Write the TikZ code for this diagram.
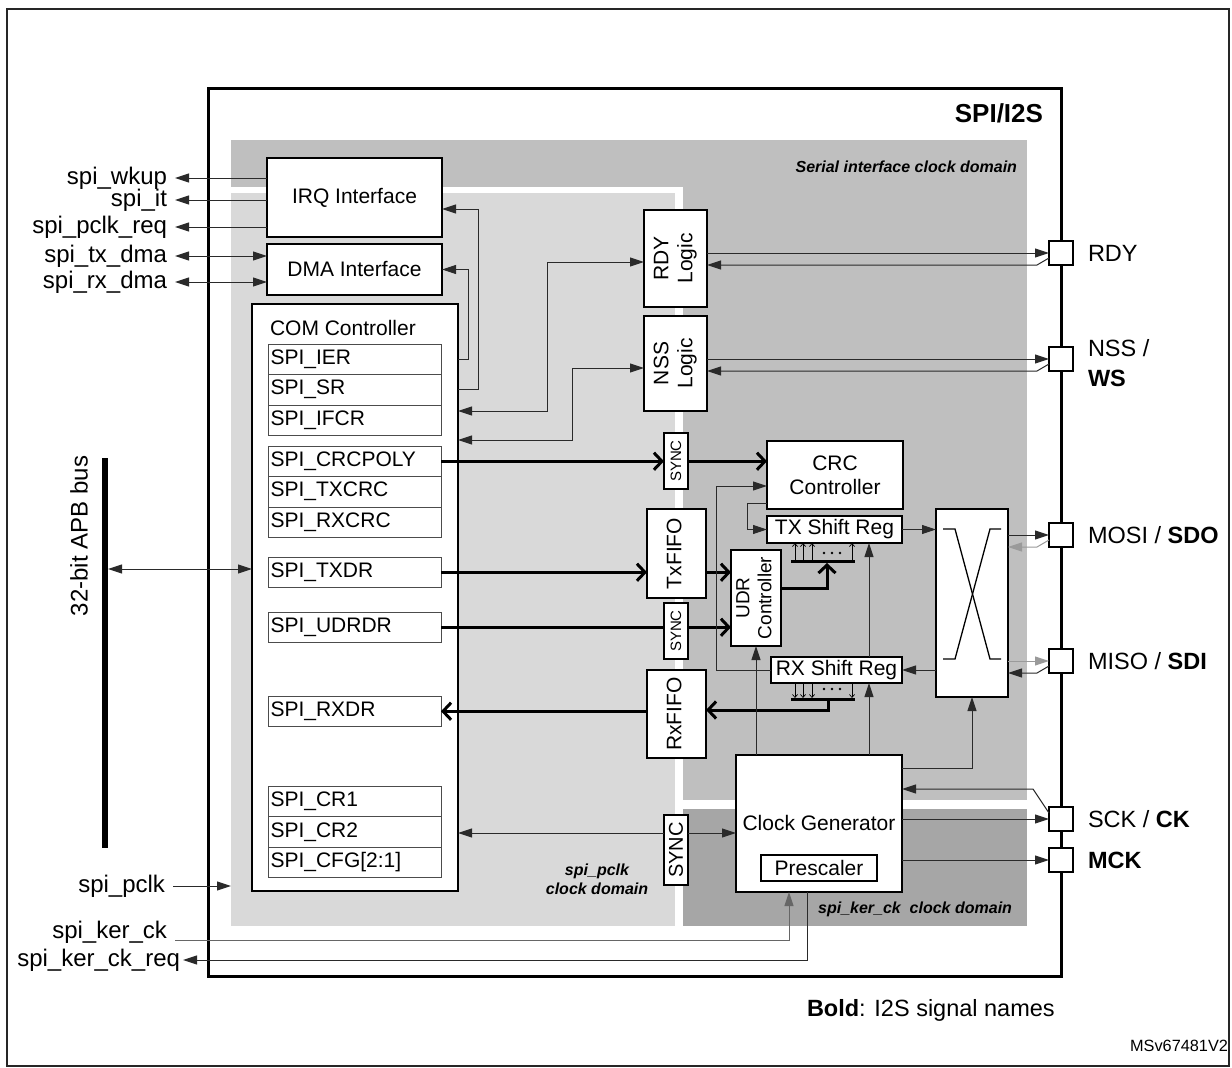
\documentclass[tikz,border=0pt]{standalone}
\usepackage{fontspec}
\usepackage{graphicx}
\setmainfont{Liberation Sans}
\usetikzlibrary{arrows.meta,calc}
\definecolor{glight}{HTML}{D9D9D9}
\definecolor{gmed}{HTML}{BFBFBF}
\definecolor{gdark}{HTML}{A6A6A6}
\definecolor{lnc}{HTML}{2A2A2A}
\definecolor{gline}{HTML}{9A9A9A}
\newcommand{\fsz}[2]{\fontsize{#1}{#2}\selectfont}
\newcommand{\rottxt}[1]{\rotatebox{90}{\begin{tabular}{@{}c@{}}#1\end{tabular}}}
\begin{document}
\begin{tikzpicture}[x=1pt,y=-1pt,
  every node/.append style={inner sep=0pt, outer sep=0pt, font=\fsz{21}{24}},
  box/.style={draw=black, line width=1.8pt, fill=white, anchor=north west},
  sbox/.style={draw=black, line width=1.5pt, fill=white, anchor=north west},
  reg/.style={draw=black!70, line width=0.9pt, fill=white, anchor=north west,
    minimum height=30.5pt, text width=168pt, inner xsep=2.5pt, align=left},
  padbox/.style={draw=black, line width=1.5pt, fill=white, minimum size=24pt},
  arr/.style={line width=1pt, draw=lnc, -{Triangle[length=14pt,width=9pt]}},
  arrb/.style={line width=1pt, draw=lnc, {Triangle[length=14pt,width=9pt]}-{Triangle[length=14pt,width=9pt]}},
  garr/.style={line width=1pt, draw=gline, -{Triangle[length=14pt,width=9pt]}},
  dat/.style={line width=3pt, -{Straight Barb[length=8pt,width=17pt]}},
  datn/.style={line width=3pt},
  bit/.style={line width=0.7pt, -{Straight Barb[length=3pt,width=5pt]}},
  lbl/.style={anchor=east, font=\fsz{24}{26}},
  plbl/.style={anchor=west, font=\fsz{23.5}{30}, align=left},
  dom/.style={font=\fsz{16}{19}\bfseries\itshape}
]
\useasboundingbox (0,0) rectangle (1232,1068);
% outer frame
\draw[line width=1.5pt, black!85] (7,9) rectangle (1229,1066);

% SPI/I2S block
\node[draw=black, line width=3pt, minimum width=853pt, minimum height=888pt, anchor=north west] (spi) at (208,88) {};
\fill[gmed] (231,140) rectangle (1027,800);
\fill[white] (231,187) rectangle (683,926);
\fill[glight] (231,193) rectangle (675,926);
\fill[gdark] (683,809) rectangle (1027,926);

\node[anchor=east, font=\fsz{26}{30}\bfseries] (spititle) at (1043,113) {SPI/I2S};
\node[dom, anchor=east] (sicd) at (1017,167) {Serial interface clock domain};
\node[dom, align=center] (pcd) at (597,879) {spi\_pclk\\clock domain};
\node[dom, anchor=east] (kcd) at (1012,909) {spi\_ker\_ck\ \ clock domain};

% APB bus
\coordinate (bust) at (105,458);
\coordinate (busb) at (105,848);
\draw[line width=6pt] (bust) -- (busb);
\node[rotate=90, font=\fsz{24}{28}] (bustext) at (79,536) {32-bit APB bus};

% interface boxes
\node[box, minimum width=175pt, minimum height=79pt] (irq) at (267,158) {IRQ Interface};
\node[box, minimum width=175pt, minimum height=51pt] (dma) at (267,244) {DMA Interface};
\node[box, minimum width=206pt, minimum height=587pt] (com) at (252,304) {};
\node[anchor=west] (comt) at (270,328) {COM Controller};

% registers
\node[reg] (ier) at (268,344) {SPI\_IER};
\node[reg] (sr) at (268,374.5) {SPI\_SR};
\node[reg] (ifcr) at (268,405) {SPI\_IFCR};
\node[reg] (crcpoly) at (268,446) {SPI\_CRCPOLY};
\node[reg] (txcrc) at (268,476.5) {SPI\_TXCRC};
\node[reg] (rxcrc) at (268,507) {SPI\_RXCRC};
\node[reg] (txdr) at (268,557) {SPI\_TXDR};
\node[reg] (udrdr) at (268,612) {SPI\_UDRDR};
\node[reg] (rxdr) at (268,696) {SPI\_RXDR};
\node[reg] (cr1) at (268,786) {SPI\_CR1};
\node[reg] (cr2) at (268,816.5) {SPI\_CR2};
\node[reg] (cfg) at (268,847) {SPI\_CFG[2:1]};

% logic blocks
\node[box, minimum width=63pt, minimum height=97pt] (rdy) at (644,210) {\rottxt{RDY\\Logic}};
\node[box, minimum width=63pt, minimum height=95pt] (nss) at (644,316) {\rottxt{NSS\\Logic}};
\node[sbox, minimum width=24pt, minimum height=56pt] (sync1) at (664,433) {\rotatebox{90}{\fsz{15}{17}SYNC}};
\node[box, minimum width=136pt, minimum height=68pt, align=center] (crc) at (767,441) {CRC\\Controller};
\node[box, minimum width=59pt, minimum height=89pt] (txfifo) at (647,509) {\rottxt{TxFIFO}};
\node[box, minimum width=135pt, minimum height=27pt] (txsr) at (767,516) {TX Shift Reg};
\node[box, minimum width=50pt, minimum height=96pt] (udr) at (731,550) {\rotatebox{90}{\fsz{19}{22}\begin{tabular}{@{}c@{}}UDR\\Controller\end{tabular}}};
\node[sbox, minimum width=24pt, minimum height=56pt] (sync2) at (664,603) {\rotatebox{90}{\fsz{15}{17}SYNC}};
\node[box, minimum width=131pt, minimum height=26pt] (rxsr) at (771,657) {RX Shift Reg};
\node[box, minimum width=59pt, minimum height=88pt] (rxfifo) at (647,670) {\rottxt{RxFIFO}};
\node[box, minimum width=72pt, minimum height=188pt] (xbox) at (936,509) {};
\node[box, minimum width=166pt, minimum height=137pt] (cg) at (736,755) {};
\node (cgt) at (819,823) {Clock Generator};
\node[draw=black, line width=1.2pt, fill=white, anchor=north west, minimum width=116pt, minimum height=26pt] (presc) at (761,855) {Prescaler};
\node[sbox, minimum width=24pt, minimum height=70pt] (sync3) at (664,815) {\rotatebox{90}{\fsz{20}{22}SYNC}};

% crossbar symbol
\draw[line width=1.3pt] (943,529) -- (955,529) -- (990,659) -- (1001,659);
\draw[line width=1.3pt] (1001,529) -- (990,529) -- (955,659) -- (943,659);

% pads
\node[padbox] (prdy) at (spi.east |- 0,253) {};
\node[padbox] (pnss) at (spi.east |- 0,359) {};
\node[padbox] (pmosi) at (spi.east |- 0,535) {};
\node[padbox] (pmiso) at (spi.east |- 0,661) {};
\node[padbox] (psck) at (spi.east |- 0,819) {};
\node[padbox] (pmck) at (spi.east |- 0,860) {};
\node[plbl] (trdy) at (1088,253) {RDY};
\node[plbl] (tnss) at (1088,363) {NSS /\\\textbf{WS}};
\node[plbl] (tmosi) at (1088,535) {MOSI / \textbf{SDO}};
\node[plbl] (tmiso) at (1088,661) {MISO / \textbf{SDI}};
\node[plbl] (tsck) at (1088,819) {SCK / \textbf{CK}};
\node[plbl] (tmck) at (1088,860) {\textbf{MCK}};

% left signal labels
\node[lbl] (lwk) at (167,178) {spi\_wkup};
\node[lbl] (lit) at (167,200) {spi\_it};
\node[lbl] (lpr) at (167,227) {spi\_pclk\_req};
\node[lbl] (ltx) at (167,256) {spi\_tx\_dma};
\node[lbl] (lrx) at (167,282) {spi\_rx\_dma};
\node[lbl] (lpclk) at (165,886) {spi\_pclk};
\node[lbl] (lker) at (167,932) {spi\_ker\_ck};
\node[lbl] (lkreq) at (180,960) {spi\_ker\_ck\_req};
\coordinate (pclkin) at (231,886);
\coordinate (kerin) at (175,940);

% IRQ / DMA outputs
\draw[arr] (irq.west |- lwk) -- ([xshift=8pt]lwk.east);
\draw[arr] (irq.west |- lit) -- ([xshift=8pt]lit.east);
\draw[arr] (irq.west |- lpr) -- ([xshift=8pt]lpr.east);
\draw[arrb] ([xshift=8pt]ltx.east) -- (dma.west |- ltx);
\draw[arrb] ([xshift=8pt]lrx.east) -- (dma.west |- lrx);

% register feedback to IRQ / DMA
\draw[arr] (com.east |- ier) -- ++(10,0) |- (dma.east);
\draw[arr] (com.east |- sr) -- ++(20,0) |- (irq.east |- 0,209);

% RDY / NSS logic to COM
\draw[arrb] (rdy.west |- 0,262) -| (547,411) -- (com.east |- 0,411);
\draw[arrb] (nss.west |- 0,368) -| (572,440) -- (com.east |- 0,440);

% pads
\draw[arr] (rdy.east |- prdy) -- (prdy.west);
\draw[arr] ([yshift=-5pt]prdy.west) -- ++(-12,7) -- (rdy.east |- 0,265);
\draw[arr] (nss.east |- pnss) -- (pnss.west);
\draw[arr] ([yshift=-5pt]pnss.west) -- ++(-12,7) -- (nss.east |- 0,371);
\draw[arr] (xbox.east |- pmosi) -- (pmosi.west);
\draw[garr] ([yshift=-5pt]pmosi.west) -- ++(-12,7) -- (xbox.east |- 0,547);
\draw[garr] (xbox.east |- pmiso) -- (pmiso.west);
\draw[arr] ([yshift=-5pt]pmiso.west) -- ++(-12,7) -- (xbox.east |- 0,673);
\draw[arr] (cg.east |- psck) -- (psck.west);
\draw[arr] ([yshift=6pt]psck.west) -- (1033,789) -- (cg.east |- 0,789);
\draw[arr] (cg.east |- pmck) -- (pmck.west);

% data paths
\draw[dat] (crcpoly.east) -- (sync1.west |- crcpoly);
\draw[dat] (sync1.east |- crcpoly) -- (crc.west |- crcpoly);
\draw[dat] (txdr.east) -- (txfifo.west |- txdr);
\draw[dat] (txfifo.east |- txdr) -- (udr.west |- txdr);
\draw[datn] (udrdr.east) -- (sync2.west |- udrdr);
\draw[dat] (sync2.east |- udrdr) -- (udr.west |- udrdr);
\draw[dat] (rxfifo.west |- rxdr) -- (rxdr.east);

% TX parallel bus
\coordinate (txbl) at (791,561);
\coordinate (txbr) at (855,561);
\draw[line width=3pt] (txbl) -- (txbr);
\foreach \bx in {795,803,812,852} \draw[bit] (\bx,560) -- (txsr.south -| \bx,0);
\foreach \dx in {824,832,840} \fill (\dx,553) circle (1.3pt);
\draw[dat] (udr.east |- 0,588) -| ([yshift=-2pt]txbl -| 827,0);

% RX parallel bus
\coordinate (rxbl) at (791,699);
\coordinate (rxbr) at (855,699);
\draw[line width=3pt] (rxbl) -- (rxbr);
\foreach \bx in {795,803,812,852} \draw[bit] (rxsr.south -| \bx,0) -- (\bx,698);
\foreach \dx in {824,832,840} \fill (\dx,689) circle (1.3pt);
\draw[dat] (rxbl -| 828,0) |- (rxfifo.east |- 0,710);

% CRC paths
\draw[arr] (crc.west |- 0,503) -- (747,503) |- (txsr.west);
\draw[arr] (rxsr.west) -| (716,486) -- (crc.west |- 0,486);

% shift regs and crossbar
\draw[arr] (txsr.east) -- (xbox.west |- txsr.east);
\draw[arr] (xbox.west |- rxsr.east) -- (rxsr.east);

% clock generator fan-out
\draw[arr] (cg.north -| udr.south) -- (udr.south);
\draw[arr] (cg.north -| 869,0) -- (rxsr.south -| 869,0);
\draw[arr] (rxsr.north -| 869,0) -- (txsr.south -| 869,0);
\draw[arr] (cg.east |- 0,768) -| (xbox.south);

% config sync
\draw[arr] (sync3.west |- 0,833) -- (com.east |- 0,833);
\draw[arr] (sync3.east |- 0,833) -- (cg.west |- 0,833);

% clocks in
\draw[arr] ([xshift=8pt]lpclk.east) -- (pclkin);
\draw[arr, draw=black!60] (kerin) -| (cg.south -| 789,0);
\draw[arr] (cg.south -| 807,0) |- ([xshift=3pt]lkreq.east);

% APB bus link
\draw[arrb] ([xshift=3pt]bust |- 0,569) -- (com.west |- 0,569);

% footer
\node[anchor=west, font=\fsz{23.5}{27}] (note) at (807,1010) {\textbf{Bold}: I2S signal names};
\node[anchor=east, font=\fsz{16.3}{19}] (msref) at (1228,1046) {MSv67481V2};
\end{tikzpicture}
\end{document}
